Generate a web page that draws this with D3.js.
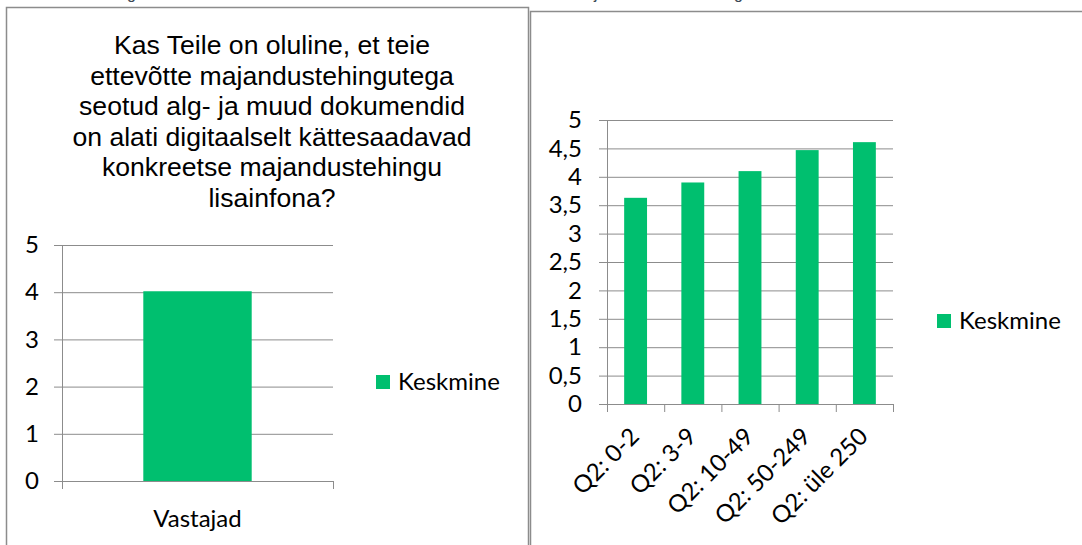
<!DOCTYPE html>
<html>
<head>
<meta charset="utf-8">
<script src="https://cdn.jsdelivr.net/npm/d3@7"></script>
<style>
  body { margin: 0; background: #fff; }
  svg { display: block; }
</style>
</head>
<body>
<svg id="canvas" width="1082" height="545"></svg>
<script>
const titleLines = [
    'Kas Teile on oluline, et teie',
    'ettevõtte majandustehingutega',
    'seotud alg- ja muud dokumendid',
    'on alati digitaalselt kättesaadavad',
    'konkreetse majandustehingu',
    'lisainfona?'
];
const seriesName = 'Keskmine';

const leftCategories = ['Vastajad'];
const leftValues = [4.02];
const leftTicks = [0, 1, 2, 3, 4, 5];

const rightCategories = ['Q2: 0-2', 'Q2: 3-9', 'Q2: 10-49', 'Q2: 50-249', 'Q2: üle 250'];
const rightValues = [3.63, 3.9, 4.1, 4.47, 4.61];
const rightTicks = [0, 0.5, 1, 1.5, 2, 2.5, 3, 3.5, 4, 4.5, 5];

const green = '#00bf6f';
const lineGrey = '#8c8c8c';
const labelFont = 'Lato, "Open Sans", sans-serif';
const labelSize = '24px';
const fmt = d3.formatLocale({ decimal: ',', thousands: ' ', grouping: [3], currency: ['', ''] }).format('~g');

const svg = d3.select('#canvas');

// panel frames (both run off the picture edge)
svg.append('rect')
    .attr('x', 6.5).attr('y', 7.5).attr('width', 522).attr('height', 560)
    .attr('fill', 'none').attr('stroke', lineGrey).attr('stroke-width', 1.5);
svg.append('rect')
    .attr('x', 530.5).attr('y', 11.5).attr('width', 600).attr('height', 560)
    .attr('fill', 'none').attr('stroke', lineGrey).attr('stroke-width', 1.5);

// descenders of the caption line that is cut off above the picture
[['g', 127], ['j', 594], ['g', 734]].forEach(([ch, x]) => {
    svg.append('text').attr('x', x).attr('y', -1)
        .style('font-family', '"Liberation Sans", Arial, sans-serif').style('font-size', '16px')
        .attr('fill', '#3a4654').text(ch);
});

// title of the left chart
svg.append('text')
    .attr('text-anchor', 'middle')
    .style('font-family', '"Liberation Sans", Arial, sans-serif')
    .style('font-size', '26.6px')
    .attr('fill', '#000')
    .selectAll('tspan')
    .data(titleLines)
    .join('tspan')
    .attr('x', 272)
    .attr('y', (d, i) => 54 + i * 30.5)
    .text(d => d);

const drawBarChart = opts => {
    const { left, right, top, bottom, categories, values, ticks } = opts;
    const width = right - left;
    const g = svg.append('g').attr('transform', `translate(${left},0)`);

    const y = d3.scaleLinear().domain([0, 5]).range([bottom, top]);
    const x = d3.scaleBand().domain(categories).range([0, width])
        .paddingInner(0.6).paddingOuter(0.3);
    const edges = d3.scaleLinear().domain([0, categories.length]).range([0, width]);

    // value axis with gridlines
    const yAxis = g.append('g')
        .call(d3.axisLeft(y).tickValues(ticks).tickFormat(fmt)
            .tickSize(8).tickSizeOuter(0).tickPadding(opts.yPad));
    yAxis.selectAll('.tick line').attr('x1', -8).attr('x2', width).attr('stroke', lineGrey);
    yAxis.select('.domain').attr('stroke', lineGrey);
    yAxis.selectAll('.tick text')
        .style('font-family', labelFont).style('font-size', labelSize).attr('fill', '#000');

    // category axis: ticks sit between the categories
    const xEdges = g.append('g')
        .attr('transform', `translate(0,${bottom})`)
        .call(d3.axisBottom(edges).tickValues(d3.range(categories.length + 1))
            .tickFormat('').tickSize(8).tickSizeOuter(0));
    xEdges.selectAll('line').attr('stroke', lineGrey);
    xEdges.select('.domain').attr('stroke', lineGrey);

    const xLabels = g.append('g')
        .attr('transform', `translate(0,${bottom})`)
        .call(d3.axisBottom(x).tickSize(0));
    xLabels.select('.domain').remove();
    const labels = xLabels.selectAll('.tick text')
        .style('font-family', labelFont).style('font-size', labelSize).attr('fill', '#000');
    if (opts.rotate) {
        labels.attr('x', 0).attr('y', 0).attr('dy', 0)
            .attr('text-anchor', 'end')
            .attr('transform', `translate(5,${opts.labelOffset}) rotate(-45)`);
    } else {
        labels.attr('y', opts.labelOffset).attr('dy', 0);
    }

    g.selectAll('rect.bar')
        .data(values)
        .join('rect')
        .attr('class', 'bar')
        .attr('x', (d, i) => x(categories[i]))
        .attr('y', d => y(d))
        .attr('width', x.bandwidth())
        .attr('height', d => y(0) - y(d))
        .attr('fill', green);

    // legend
    const legend = svg.append('g').attr('transform', `translate(${opts.legendX},${opts.legendY})`);
    legend.append('rect').attr('x', 0).attr('y', -15).attr('width', 14).attr('height', 14).attr('fill', green);
    legend.append('text').attr('x', 22).attr('y', 0)
        .style('font-family', labelFont).style('font-size', labelSize).attr('fill', '#000')
        .text(seriesName);
};

drawBarChart({
    left: 62, right: 333, top: 245, bottom: 481,
    categories: leftCategories, values: leftValues, ticks: leftTicks,
    yPad: 15, rotate: false, labelOffset: 46,
    legendX: 376, legendY: 390
});

drawBarChart({
    left: 607, right: 893, top: 120, bottom: 404,
    categories: rightCategories, values: rightValues, ticks: rightTicks,
    yPad: 17, rotate: true, labelOffset: 34,
    legendX: 937, legendY: 329
});
</script>
</body>
</html>
